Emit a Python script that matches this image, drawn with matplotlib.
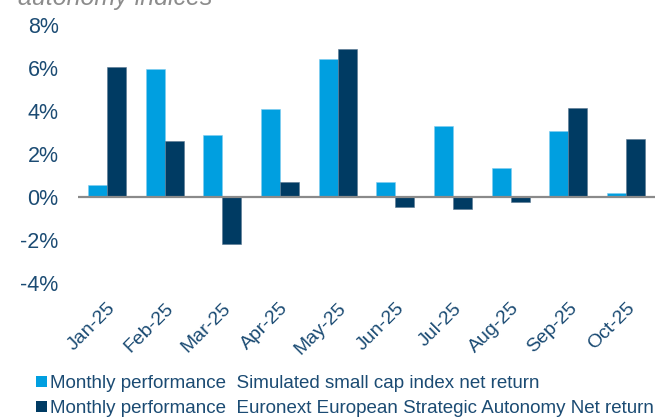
import numpy as np
import matplotlib.pyplot as plt
from matplotlib.patches import Patch

plt.rcParams['font.family'] = ['Liberation Sans', 'DejaVu Sans']

# ---------- Datos ----------
months = ["Jan-25", "Feb-25", "Mar-25", "Apr-25", "May-25",
          "Jun-25", "Jul-25", "Aug-25", "Sep-25", "Oct-25"]
small_cap = [0.56, 5.95, 2.88, 4.09, 6.42, 0.68, 3.29, 1.33, 3.08, 0.17]
autonomy = [6.03, 2.59, -2.19, 0.68, 6.87, -0.45, -0.56, -0.25, 4.12, 2.70]
yticks = [-4, -2, 0, 2, 4, 6, 8]

label_small = "Monthly performance  Simulated small cap index net return"
label_auto = "Monthly performance  Euronext European Strategic Autonomy Net return"

light = "#009FE0"
dark = "#003B63"
txt = "#1B4B73"

# ---------- Figura ----------
fig = plt.figure(figsize=(6.6, 4.2), dpi=100)
ax = fig.add_axes([78/660, 1 - 283/420, 577/660, 258/420])

x = np.arange(len(months))
w = 0.33
ax.bar(x - w/2, small_cap, width=w, color=light, edgecolor="#7fcdef", linewidth=0.4)
ax.bar(x + w/2, autonomy, width=w, color=dark, edgecolor="#5a7890", linewidth=0.4)

ax.axhline(0, color="#8a8a8a", lw=1.6, zorder=3)

ax.set_xlim(-0.5, len(months) - 0.5)
ax.set_ylim(-4, 8)
ax.set_yticks(yticks)
ax.set_yticklabels([f"{v}%" for v in yticks], fontsize=15.5, color=txt)
ax.set_xticks(x)
ax.set_xticklabels(months, rotation=45, ha="right", va="top",
                   rotation_mode="anchor", fontsize=14, color=txt)
ax.tick_params(axis="both", length=0)
ax.tick_params(axis="y", pad=14)
ax.tick_params(axis="x", pad=12)
for s in ax.spines.values():
    s.set_visible(False)

# Título recortado arriba
fig.text(18/660, 1 - 5/420, "autonomy indices", fontsize=18, style="italic",
         color="#8c8c8c", va="baseline", ha="left")

# Leyenda
handles = [Patch(facecolor=light), Patch(facecolor=dark)]
fig.legend(handles, [label_small, label_auto], loc="upper left",
           bbox_to_anchor=(27/660, 1 - 366/420), frameon=False,
           fontsize=13.5, handlelength=0.54, handleheight=0.54,
           handletextpad=0.2, labelspacing=0.43, borderpad=0,
           labelcolor=txt)

fig.savefig("out.png", dpi=100)
